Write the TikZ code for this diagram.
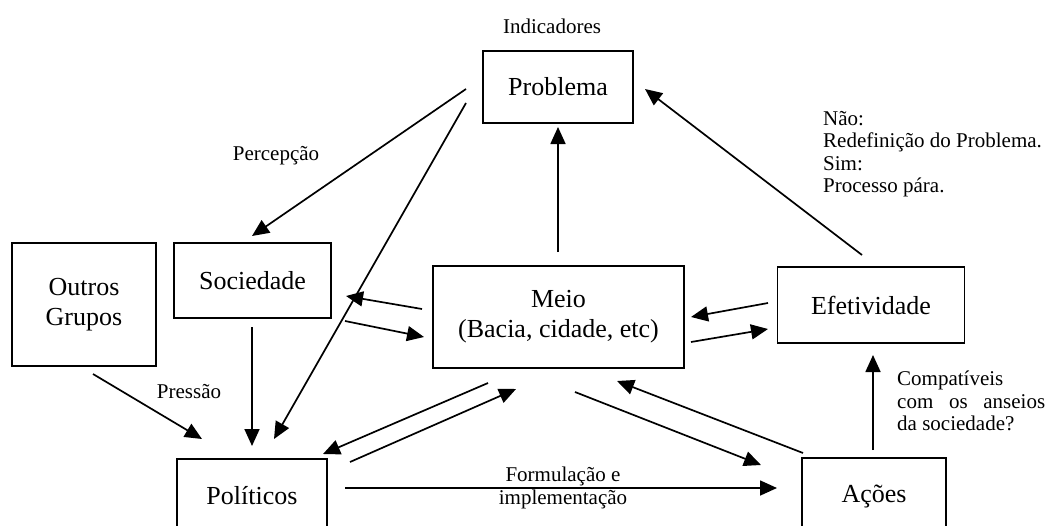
\documentclass[tikz,border=0pt]{standalone}
\usepackage{fontspec}
\setmainfont{Liberation Serif}
\usetikzlibrary{arrows.meta}
\tikzset{
  boxnode/.style={draw, line width=1.8pt, inner sep=0pt, align=center, font=\fontsize{26}{30}\selectfont},
  lbl/.style={inner sep=0pt, font=\fontsize{21}{22.5}\selectfont},
  conn/.style={line width=1.7pt, -{Triangle[length=17pt,width=15pt]}}
}
\begin{document}
\begin{tikzpicture}[x=1pt,y=-1pt]
\useasboundingbox (0,0) rectangle (1049,525);
\clip (0,0) rectangle (1049,525);
% boxes
\node[boxnode, minimum width=150pt, minimum height=72pt] (prob) at (558,87) {Problema};
\node[boxnode, minimum width=144pt, minimum height=123pt] (outros) at (84,304.5) {Outros\\Grupos};
\node[boxnode, minimum width=157pt, minimum height=75pt] (soc) at (252.5,280.5) {Sociedade};
\node[boxnode, minimum width=251pt, minimum height=102pt] (meio) at (558.5,317) {Meio\\(Bacia, cidade, etc)};
\node[boxnode, minimum width=187pt, minimum height=76pt] (efet) at (871,305) {Efetividade};
\node[boxnode, minimum width=150pt, minimum height=74pt] (pol) at (252,496) {Políticos};
\node[boxnode, minimum width=144pt, minimum height=78pt] (acoes) at (874,497) {Ações};
% labels
\node[lbl] (lind) at (552,26) {Indicadores};
\node[lbl] (lperc) at (276,156) {Percepção};
\node[lbl] (lpres) at (189,392) {Pressão};
\node[lbl, anchor=north west, align=left] (lnao) at (823,111) {Não:\\Redefinição do Problema.\\Sim:\\Processo pára.};
\node[lbl, anchor=north west, align=left] (lcomp) at (897,371) {Compatíveis\\\makebox[148pt][s]{com os anseios}\\da sociedade?};
\node[lbl, align=center] (lform) at (563,488) {Formulação e\\implementação};
% connector end points
\coordinate (a1) at (466,89);   \coordinate (b1) at (252,236);
\coordinate (a2) at (466,103);  \coordinate (b2) at (274,439);
\coordinate (a3) at (558,252);  \coordinate (b3) at (558,127);
\coordinate (a4) at (862,255);  \coordinate (b4) at (645,89);
\coordinate (a5) at (422,309);  \coordinate (b5) at (346,296);
\coordinate (a6) at (345,321);  \coordinate (b6) at (424,337);
\coordinate (a7) at (768,303);  \coordinate (b7) at (691,317);
\coordinate (a8) at (691,342);  \coordinate (b8) at (768,329);
\coordinate (a9) at (93,374);   \coordinate (b9) at (202,439);
\coordinate (a10) at (252,327); \coordinate (b10) at (252,446);
\coordinate (a11) at (488,383); \coordinate (b11) at (323,454);
\coordinate (a12) at (350,462); \coordinate (b12) at (516,389);
\coordinate (a13) at (575,392); \coordinate (b13) at (761,465);
\coordinate (a14) at (803,453); \coordinate (b14) at (617,381);
\coordinate (a15) at (345,488); \coordinate (b15) at (777,488);
\coordinate (a16) at (873,450); \coordinate (b16) at (873,355);
% connectors
\draw[conn] (a1) -- (b1);
\draw[conn] (a2) -- (b2);
\draw[conn] (a3) -- (b3);
\draw[conn] (a4) -- (b4);
\draw[conn] (a5) -- (b5);
\draw[conn] (a6) -- (b6);
\draw[conn] (a7) -- (b7);
\draw[conn] (a8) -- (b8);
\draw[conn] (a9) -- (b9);
\draw[conn] (a10) -- (b10);
\draw[conn] (a11) -- (b11);
\draw[conn] (a12) -- (b12);
\draw[conn] (a13) -- (b13);
\draw[conn] (a14) -- (b14);
\draw[conn] (a15) -- (b15);
\draw[conn] (a16) -- (b16);
\end{tikzpicture}
\end{document}
